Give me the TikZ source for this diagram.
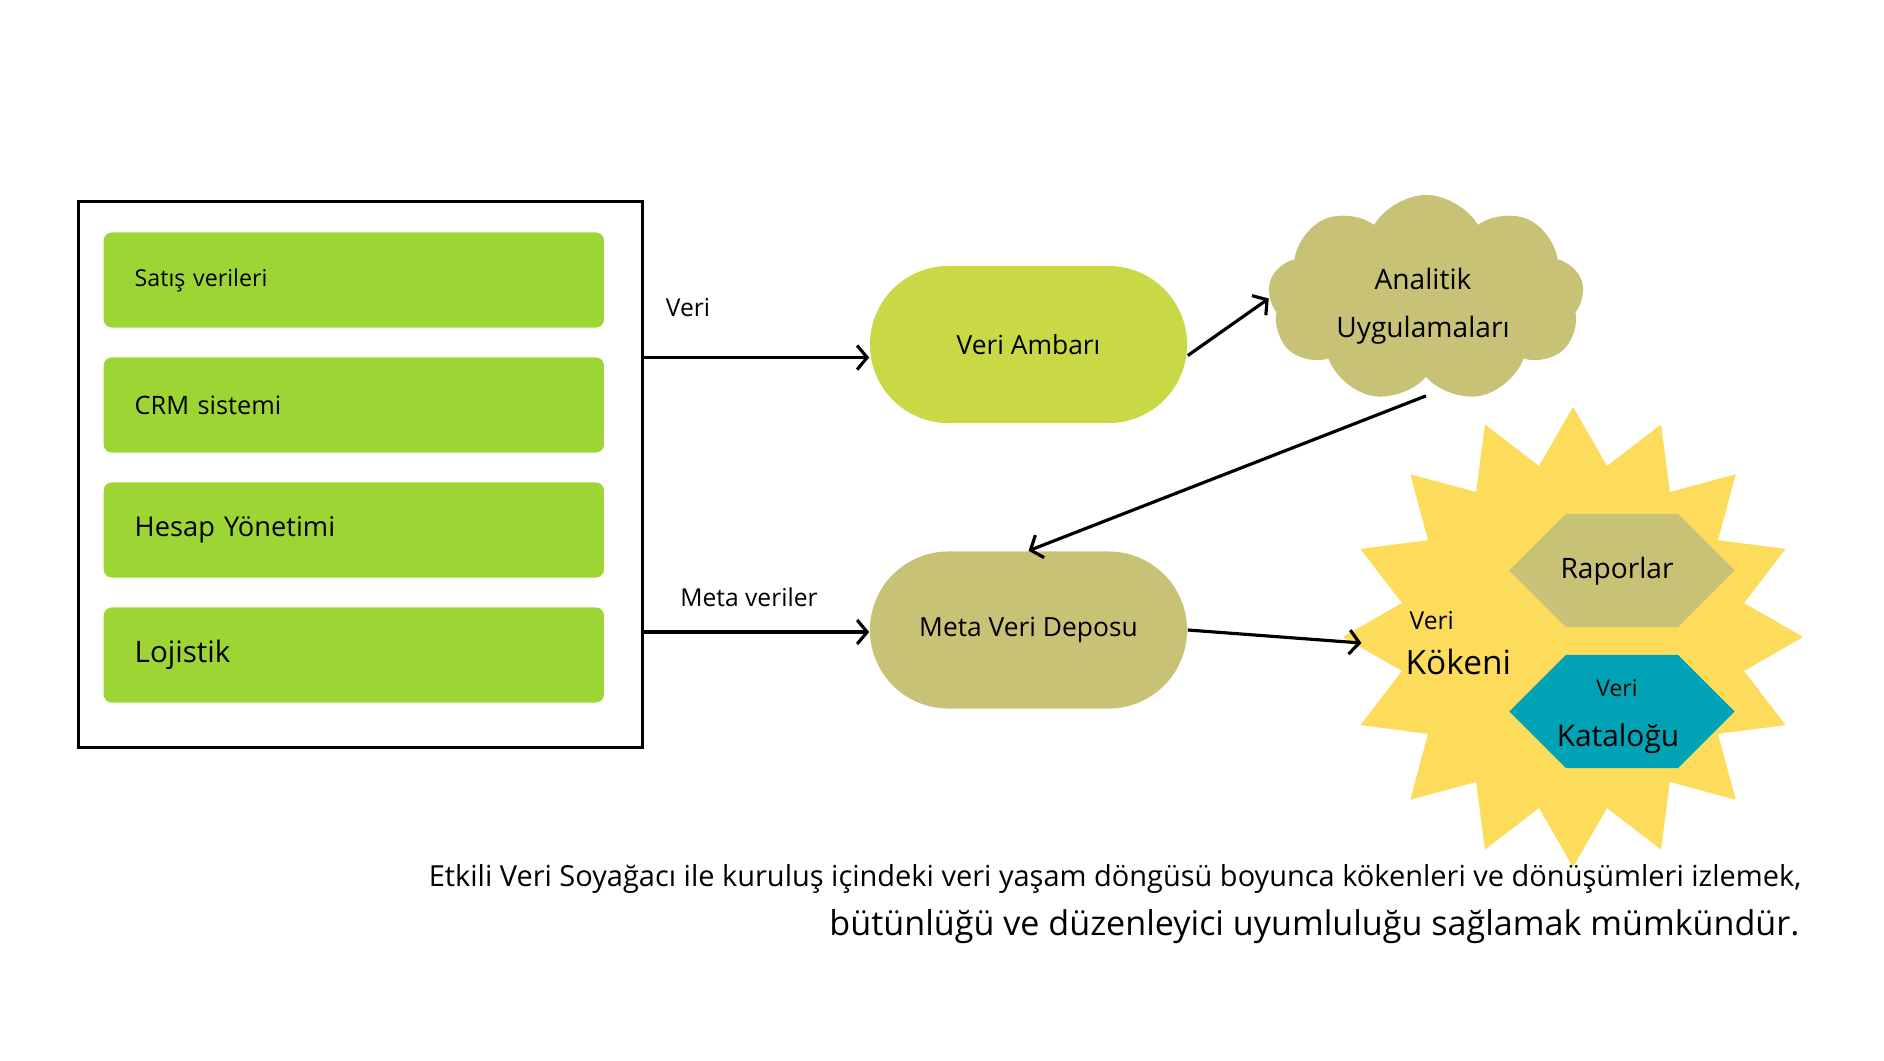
\documentclass[tikz,border=0pt]{standalone}
\usepackage{fontspec}
\setmainfont{Open Sans}
\usepackage{xcolor}
\usepackage{tikz}
\usetikzlibrary{shapes.geometric, shapes.symbols, shapes.misc, arrows.meta, positioning, calc}
\definecolor{barGreen}{RGB}{157,214,52}
\definecolor{limeFill}{RGB}{201,217,69}
\definecolor{oliveFill}{RGB}{200,194,119}
\definecolor{sunFill}{RGB}{253,220,92}
\definecolor{tealFill}{RGB}{0,163,181}
\tikzstyle{source} = [rectangle, rounded corners=0.08cm, fill=barGreen, minimum height=0.95cm, text width=4.38cm, inner xsep=0.31cm, align=left, anchor=west]
\tikzstyle{store} = [rounded rectangle, minimum width=3.17cm, minimum height=1.57cm, inner sep=0pt]
\tikzstyle{hexa} = [signal, signal to=east and west, signal pointer angle=90, minimum width=2.25cm, minimum height=1.13cm, inner sep=0pt]
\tikzstyle{arrow} = [line width=0.9pt, ->, >={Straight Barb[length=1mm,width=2.4mm]}]
\tikzstyle{lbl} = [inner sep=0pt]

\begin{document}
\begin{tikzpicture}[x=0.01cm, y=-0.01cm]
    \useasboundingbox (0,0) rectangle (1884,1060);
    % Sources
    \node[draw, line width=0.9pt, minimum width=5.63cm, minimum height=5.45cm, inner sep=0pt] (box) at (360.5,474.5) {};
    \node[source, font=\fontsize{6.6}{8}\selectfont] (sales) at (103,280) {Satış verileri};
    \node[source, font=\fontsize{7.2}{9}\selectfont] (crm) at (103,405) {CRM sistemi};
    \node[source, font=\fontsize{7.75}{10}\selectfont] (account) at (103,530) {Hesap Yönetimi};
    \node[source, font=\fontsize{8.4}{10}\selectfont] (logistics) at (103,655) {Lojistik};

    % Stores
    \node[store, fill=limeFill, font=\fontsize{7.5}{9}\selectfont] (warehouse) at (1028.5,344.5) {Veri Ambarı};
    \node[store, fill=oliveFill, font=\fontsize{7.5}{9}\selectfont] (meta) at (1028.5,630) {Meta Veri Deposu};
    \node[cloud, cloud puffs=9, cloud puff arc=120, aspect=1.5, fill=oliveFill, minimum width=3.16cm, minimum height=2.07cm, inner sep=0pt] (analytics) at (1426,298.5) {};
    \node[lbl, align=center, font=\fontsize{8}{13.7}\selectfont] (analyticsText) at (1423,306) {Analitik\\Uygulamaları};

    % Lineage
    \node[star, star points=16, star point ratio=1.32, minimum size=4.6cm, inner sep=0pt, fill=sunFill] (lineage) at (1573,637) {};
    \node[lbl, anchor=west, font=\fontsize{7}{8}\selectfont] (lineageTop) at (1409,621) {Veri};
    \node[lbl, anchor=west, font=\fontsize{9.5}{11}\selectfont] (lineageBottom) at (1405,662) {Kökeni};
    \node[hexa, fill=oliveFill] (reports) at (1622,570.5) {};
    \node[lbl, font=\fontsize{8}{10}\selectfont] (reportsText) at (1617,571) {Raporlar};
    \node[hexa, fill=tealFill] (catalog) at (1622,711.5) {};
    \node[lbl, font=\fontsize{6.5}{8}\selectfont] (catalogTop) at (1617,688) {Veri};
    \node[lbl, font=\fontsize{8.5}{10}\selectfont] (catalogBottom) at (1618,739) {Kataloğu};

    % Connections
    \draw[arrow] ([yshift=-0.13cm]warehouse.west -| box.east) -- ([yshift=-0.13cm]warehouse.west);
    \node[lbl, font=\fontsize{7}{8}\selectfont] (dataLbl) at (688,308) {Veri};
    \draw[arrow] ([yshift=-0.02cm]meta.west -| box.east) -- ([yshift=-0.02cm]meta.west);
    \node[lbl, font=\fontsize{7}{8}\selectfont] (metaLbl) at (749,597) {Meta veriler};
    \draw[arrow] ([yshift=-0.11cm]warehouse.east) -- (analytics.west);
    \draw[arrow] ([yshift=-0.18cm]analytics.south) -- (meta.north);
    \draw[arrow] (meta.east) -- ($(lineage.west)+(20,6)$);

    % Caption
    \node[lbl, anchor=east, font=\fontsize{8.24}{10}\selectfont] (captionA) at (1802,879) {Etkili Veri Soyağacı ile kuruluş içindeki veri yaşam döngüsü boyunca kökenleri ve dönüşümleri izlemek,};
    \node[lbl, anchor=east, font=\fontsize{9.7}{11}\selectfont] (captionB) at (1800,927) {bütünlüğü ve düzenleyici uyumluluğu sağlamak mümkündür.};
\end{tikzpicture}
\end{document}
